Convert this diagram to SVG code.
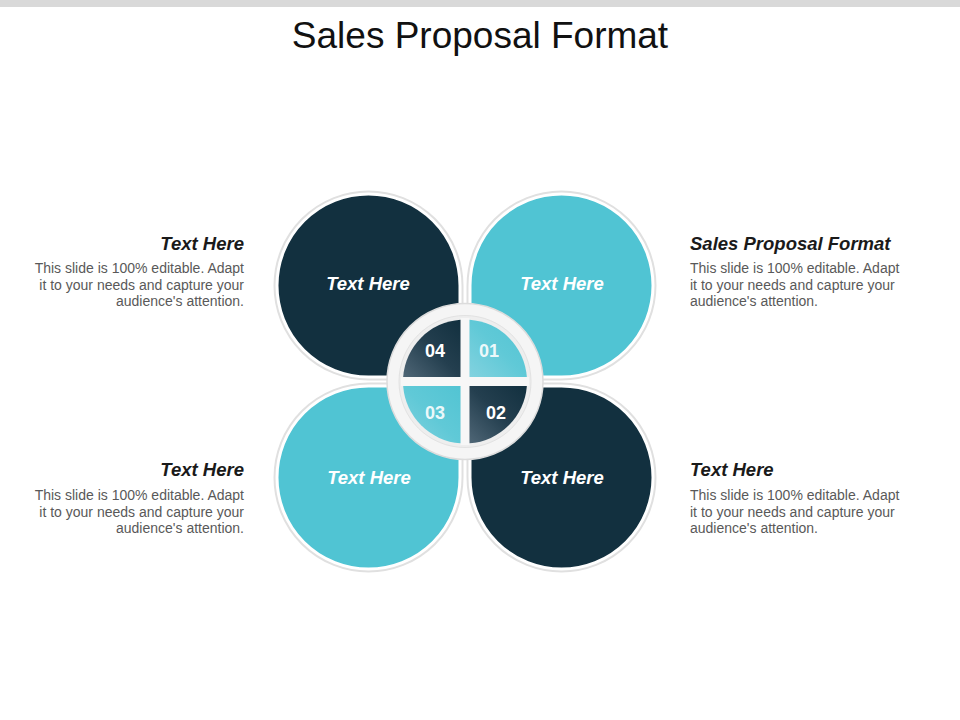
<svg xmlns="http://www.w3.org/2000/svg" width="960" height="720" viewBox="0 0 960 720">
<style>
.title{font-family:"Liberation Sans",Arial,sans-serif;font-size:37px;fill:#111}
.ph{font-family:"Liberation Sans",Arial,sans-serif;font-size:18.5px;font-weight:bold;font-style:italic;fill:#ffffff;text-anchor:middle}
.num{font-family:"Liberation Sans",Arial,sans-serif;font-size:18px;font-weight:bold;fill:#ffffff;text-anchor:middle}
.hd{font-family:"Liberation Sans",Arial,sans-serif;font-size:18.5px;font-weight:bold;font-style:italic;fill:#1a1a1a}
.bd{font-family:"Liberation Sans",Arial,sans-serif;font-size:14px;fill:#595959}
.r{text-anchor:end}
.shadow{fill:none;stroke:#e0e0e0;stroke-width:7}
.edge{stroke:#ffffff;stroke-width:3}
.dark{fill:#12303f}
.cyan{fill:#50c4d3}
</style>
<defs>
<path id="petal" d="M0 0 L-91.5 0 A91.5 91.5 0 0 1 -183 -91.5 A91.5 91.5 0 0 1 -91.5 -183 A91.5 91.5 0 0 1 0 -91.5 Z"/>
<linearGradient id="gDark" x1="0" y1="1" x2="1" y2="0">
<stop offset="0" stop-color="#4f6676"/>
<stop offset="0.5" stop-color="#243f4f"/>
<stop offset="1" stop-color="#12303f"/>
</linearGradient>
<linearGradient id="gLight" x1="0" y1="1" x2="1" y2="0">
<stop offset="0" stop-color="#82d2df"/>
<stop offset="0.5" stop-color="#60c9d7"/>
<stop offset="1" stop-color="#52c4d3"/>
</linearGradient>
</defs>
<rect x="0" y="0" width="960" height="7" fill="#d9d9d9"/>
<text class="title" x="480" y="48" text-anchor="middle">Sales Proposal Format</text>

<g id="petal-top-left">
<use href="#petal" transform="translate(460,377)" class="shadow"/>
<use href="#petal" transform="translate(460,377)" class="dark edge"/>
<text class="ph" x="368" y="290">Text Here</text>
</g>
<g id="petal-top-right">
<use href="#petal" transform="translate(470,377) scale(-1,1)" class="shadow"/>
<use href="#petal" transform="translate(470,377) scale(-1,1)" class="cyan edge"/>
<text class="ph" x="562" y="290">Text Here</text>
</g>
<g id="petal-bottom-left">
<use href="#petal" transform="translate(460,386) scale(1,-1)" class="shadow"/>
<use href="#petal" transform="translate(460,386) scale(1,-1)" class="cyan edge"/>
<text class="ph" x="369" y="484">Text Here</text>
</g>
<g id="petal-bottom-right">
<use href="#petal" transform="translate(470,386) scale(-1,-1)" class="shadow"/>
<use href="#petal" transform="translate(470,386) scale(-1,-1)" class="dark edge"/>
<text class="ph" x="562" y="484">Text Here</text>
</g>

<g id="hub">
<circle cx="465" cy="381.5" r="78" fill="#f5f5f5" stroke="#dcdcdc" stroke-width="1.5"/>
<circle cx="465" cy="381.5" r="66" fill="#eeeeee" stroke="#e2e2e2" stroke-width="1"/>
<rect x="460.5" y="318" width="9" height="127" fill="#f7f7f7"/>
<rect x="401" y="377" width="128" height="9" fill="#f7f7f7"/>
</g>
<g id="q01">
<path d="M469.5 377 V319.66 A62 62 0 0 1 526.84 377 Z" fill="url(#gLight)"/>
<text class="num" x="489" y="357" fill-opacity="0.9">01</text>
</g>
<g id="q02">
<path d="M469.5 386 H526.84 A62 62 0 0 1 469.5 443.34 Z" fill="url(#gDark)"/>
<text class="num" x="496" y="419">02</text>
</g>
<g id="q03">
<path d="M460.5 386 V443.34 A62 62 0 0 1 403.16 386 Z" fill="url(#gLight)"/>
<text class="num" x="435" y="419" fill-opacity="0.9">03</text>
</g>
<g id="q04">
<path d="M460.5 377 H403.16 A62 62 0 0 1 460.5 319.66 Z" fill="url(#gDark)"/>
<text class="num" x="435" y="357">04</text>
</g>

<g id="connectors"></g>

<g id="note-top-left">
<text class="hd r" x="244" y="250">Text Here</text>
<text class="bd r" x="244" y="273">This slide is 100% editable. Adapt</text>
<text class="bd r" x="244" y="290">it to your needs and capture your</text>
<text class="bd r" x="244" y="306">audience's attention.</text>
</g>
<g id="note-top-right">
<text class="hd" x="690" y="250">Sales Proposal Format</text>
<text class="bd" x="690" y="273">This slide is 100% editable. Adapt</text>
<text class="bd" x="690" y="290">it to your needs and capture your</text>
<text class="bd" x="690" y="306">audience's attention.</text>
</g>
<g id="note-bottom-left">
<text class="hd r" x="244" y="476">Text Here</text>
<text class="bd r" x="244" y="500">This slide is 100% editable. Adapt</text>
<text class="bd r" x="244" y="517">it to your needs and capture your</text>
<text class="bd r" x="244" y="533">audience's attention.</text>
</g>
<g id="note-bottom-right">
<text class="hd" x="690" y="476">Text Here</text>
<text class="bd" x="690" y="500">This slide is 100% editable. Adapt</text>
<text class="bd" x="690" y="517">it to your needs and capture your</text>
<text class="bd" x="690" y="533">audience's attention.</text>
</g>
</svg>
